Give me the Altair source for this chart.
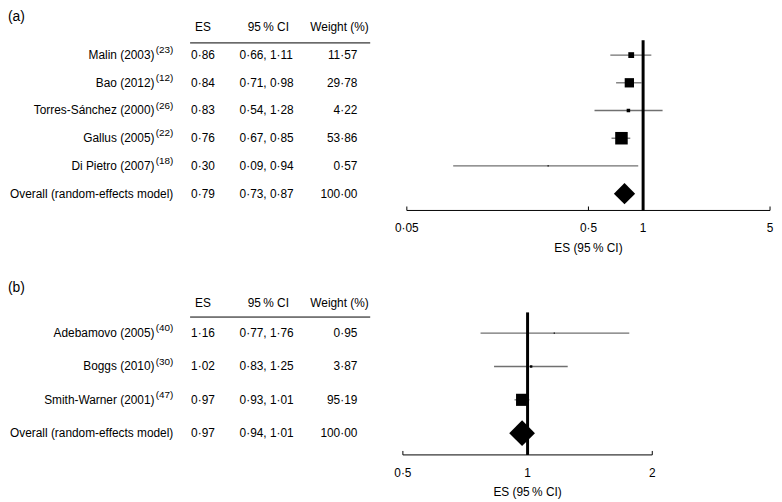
import altair as alt
import pandas as pd

FONT = "Liberation Sans"
OVERALL = "Overall (random-effects model)"

# ---------------- Panel (a) data ----------------
A_study = ["Malin (2003)", "Bao (2012)", "Torres-Sánchez (2000)", "Gallus (2005)", "Di Pietro (2007)"]
A_ref = ["(23)", "(12)", "(26)", "(22)", "(18)"]
A_es = [0.86, 0.84, 0.83, 0.76, 0.30]
A_lo = [0.66, 0.71, 0.54, 0.67, 0.09]
A_hi = [1.11, 0.98, 1.28, 0.85, 0.94]
A_wt = [11.57, 29.78, 4.22, 53.86, 0.57]
A_overall = [0.79, 0.73, 0.87, 100.00]
A_ticks = [0.05, 0.5, 1, 5]
A_tick_labels = ["0·05", "0·5", "1", "5"]

# ---------------- Panel (b) data ----------------
B_study = ["Adebamovo (2005)", "Boggs (2010)", "Smith-Warner (2001)"]
B_ref = ["(40)", "(30)", "(47)"]
B_es = [1.16, 1.02, 0.97]
B_lo = [0.77, 0.83, 0.93]
B_hi = [1.76, 1.25, 1.01]
B_wt = [0.95, 3.87, 95.19]
B_overall = [0.97, 0.94, 1.01, 100.00]
B_ticks = [0.5, 1, 2]
B_tick_labels = ["0·5", "1", "2"]


def fmt(v):
    return f"{v:.2f}".replace(".", "·")


def const_text(txt, x, y, align="center", baseline="middle", size=12):
    return alt.Chart(pd.DataFrame({"t": [txt]})).mark_text(
        align=align, baseline=baseline, fontSize=size, color="black"
    ).encode(x=alt.value(x), y=alt.value(y), text="t:N")


def panel(tag, study, ref, es, lo, hi, wt, overall, ticks, tick_labels, *,
          xrange, yrange, header_y, line_y, tag_y, rule_top, axis_y,
          max_area, dia_size):
    rows = study + [OVERALL]
    df = pd.DataFrame({
        "row": rows,
        "ref": ref + [""],
        "es": es + [overall[0]],
        "lo": lo + [overall[1]],
        "hi": hi + [overall[2]],
        "wt": wt + [overall[3]],
        "kind": ["study"] * len(study) + ["overall"],
    })
    df["es_t"] = df["es"].map(fmt)
    df["ci_t"] = [fmt(a) + ", " + fmt(b) for a, b in zip(df["lo"], df["hi"])]
    df["wt_t"] = df["wt"].map(fmt)

    xs = alt.Scale(type="log", domain=[ticks[0], ticks[-1]], range=xrange, nice=False)
    ys = alt.Scale(type="point", domain=rows, range=yrange, padding=0)
    y_enc = alt.Y("row:N", scale=ys, axis=None)

    base = alt.Chart(df)
    studies = base.transform_filter("datum.kind == 'study'")
    ov = base.transform_filter("datum.kind == 'overall'")

    ci = studies.mark_rule(color="#707070", strokeWidth=1.3).encode(
        x=alt.X("lo:Q", scale=xs, axis=None), x2="hi:Q", y=y_enc)
    sq = studies.mark_square(color="black", opacity=1).encode(
        x=alt.X("es:Q", scale=xs, axis=None), y=y_enc,
        size=alt.Size("wt:Q", scale=alt.Scale(domain=[0, max(wt)], range=[0, max_area]), legend=None))
    dia = ov.mark_point(shape="diamond", filled=True, color="black", opacity=1, size=dia_size).encode(
        x=alt.X("es:Q", scale=xs, axis=None), y=y_enc)

    refline = alt.Chart(pd.DataFrame({"v": [1]})).mark_rule(color="black", strokeWidth=3).encode(
        x=alt.X("v:Q", scale=xs, axis=None), y=alt.value(rule_top), y2=alt.value(axis_y))

    dom = alt.Chart(pd.DataFrame({"a": [ticks[0]], "b": [ticks[-1]]})).mark_rule(
        color="black", strokeWidth=1).encode(
        x=alt.X("a:Q", scale=xs, axis=None), x2="b:Q", y=alt.value(axis_y))
    tdf = pd.DataFrame({"t": ticks, "lab": tick_labels})
    tk = alt.Chart(tdf).mark_rule(color="black", strokeWidth=1).encode(
        x=alt.X("t:Q", scale=xs, axis=None), y=alt.value(axis_y - 4), y2=alt.value(axis_y))
    tl = alt.Chart(tdf).mark_text(fontSize=12, baseline="middle", color="black").encode(
        x=alt.X("t:Q", scale=xs, axis=None), y=alt.value(axis_y + 18), text="lab:N")
    title = const_text("ES (95\u2009% CI)", (xrange[0] + xrange[1]) / 2, axis_y + 38)

    lab = studies.mark_text(align="right", baseline="middle", fontSize=12, color="black").encode(
        x=alt.value(148), y=y_enc, text="row:N")
    sup = studies.mark_text(align="right", baseline="middle", fontSize=10, dy=-5, color="black").encode(
        x=alt.value(167), y=y_enc, text="ref:N")
    ovlab = ov.mark_text(align="right", baseline="middle", fontSize=12, color="black").encode(
        x=alt.value(167), y=y_enc, text="row:N")
    es_t = base.mark_text(align="left", baseline="middle", fontSize=12, color="black").encode(
        x=alt.value(185), y=y_enc, text="es_t:N")
    ci_t = base.mark_text(align="left", baseline="middle", fontSize=12, color="black").encode(
        x=alt.value(234), y=y_enc, text="ci_t:N")
    wt_t = base.mark_text(align="right", baseline="middle", fontSize=12, color="black").encode(
        x=alt.value(353), y=y_enc, text="wt_t:N")

    h1 = const_text("ES", 197, header_y)
    h2 = const_text("95\u2009% CI", 263, header_y)
    h3 = const_text("Weight (%)", 335, header_y)
    uline = alt.Chart(pd.DataFrame({"k": [0]})).mark_rule(color="black", strokeWidth=1).encode(
        x=alt.value(184), x2=alt.value(366), y=alt.value(line_y))
    tagt = const_text(tag, 0, tag_y, align="left", baseline="top", size=14)

    return alt.layer(ci, sq, dia, refline, dom, tk, tl, title,
                     lab, sup, ovlab, es_t, ci_t, wt_t, h1, h2, h3, uline, tagt)


pA = panel("(a)", A_study, A_ref, A_es, A_lo, A_hi, A_wt, A_overall, A_ticks, A_tick_labels,
           xrange=[403, 770], yrange=[45, 185], header_y=17, line_y=32.7, tag_y=0,
           rule_top=30, axis_y=202, max_area=160, dia_size=462)
pB = panel("(b)", B_study, B_ref, B_es, B_lo, B_hi, B_wt, B_overall, B_ticks, B_tick_labels,
           xrange=[399, 651], yrange=[326, 427], header_y=295.3, line_y=309.7, tag_y=273,
           rule_top=305, axis_y=449, max_area=150, dia_size=676)

chart = alt.layer(pA, pB).resolve_scale(
    x="independent", y="independent", size="independent"
).properties(
    width=774, height=494, autosize=alt.AutoSizeParams(type="none"), padding=0
).configure_view(stroke=None).configure_text(font=FONT)

chart.save("out.html", embed_options={"renderer": "svg", "actions": False})
